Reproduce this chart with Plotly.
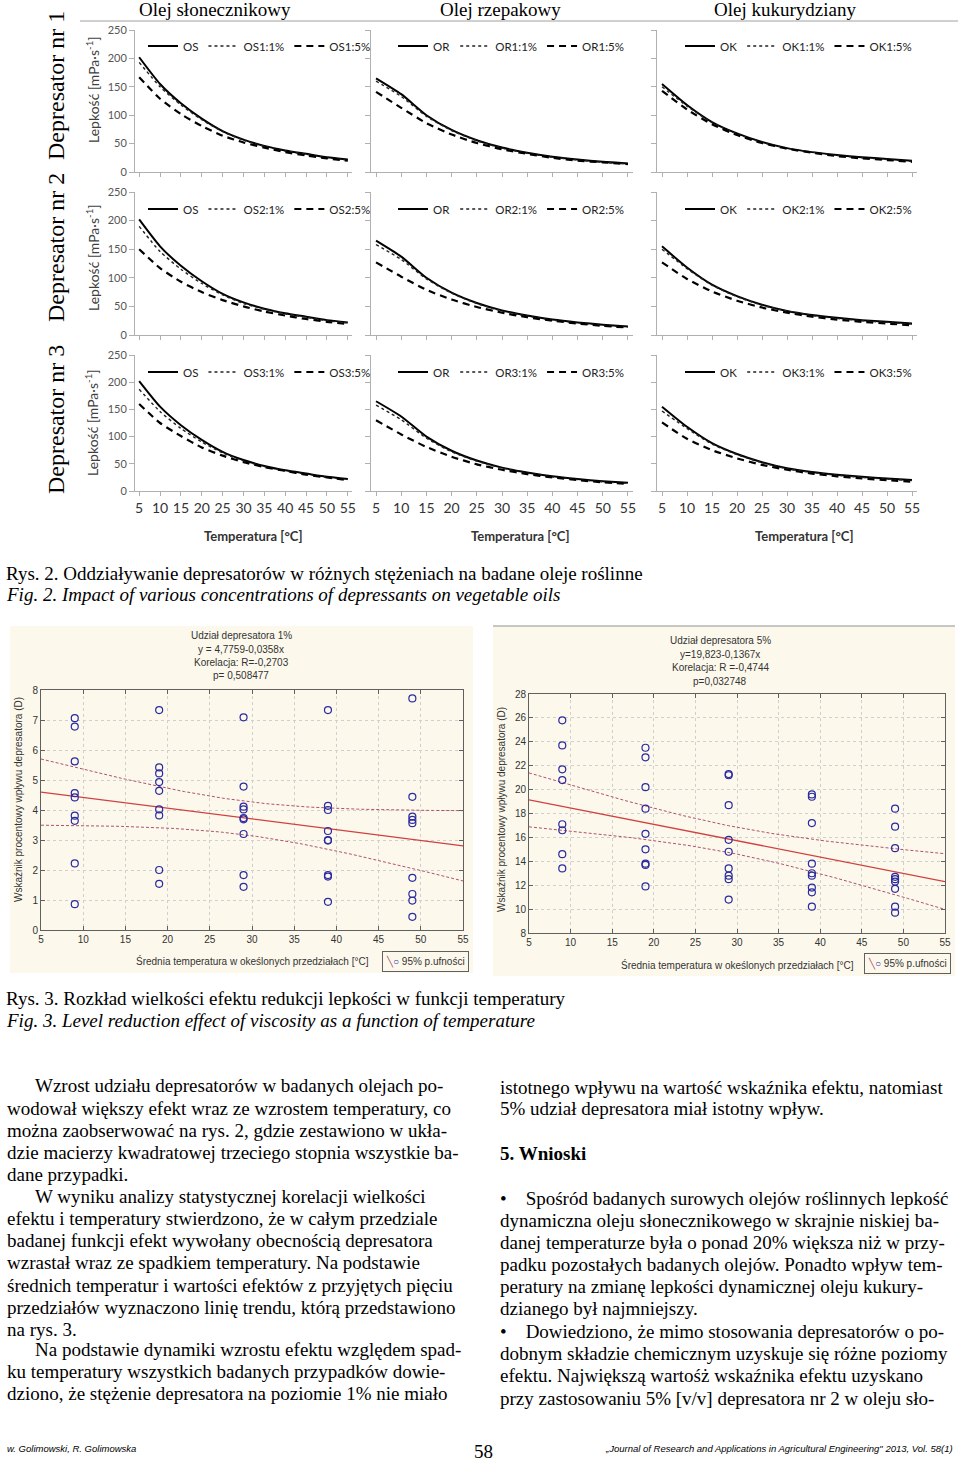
import numpy as np
import plotly.graph_objects as go

# ---------------- DATA ----------------
TEMP = [5, 10, 15, 20, 25, 30, 35, 40, 45, 50, 55]
X_TICKS = [5, 10, 15, 20, 25, 30, 35, 40, 45, 50, 55]
Y_TICKS_VISC = [0, 50, 100, 150, 200, 250]

OIL_TITLES = ["Olej słonecznikowy", "Olej rzepakowy", "Olej kukurydziany"]
ROW_TITLES = ["Depresator nr 1", "Depresator nr 2", "Depresator nr 3"]
OIL_CODES = ["OS", "OR", "OK"]

# sunflower
OS = [202, 155, 121, 94, 72, 57, 46, 38, 32, 26, 22]
OS1_1 = [193, 150, 118, 92, 71, 56, 45, 37, 31, 25, 21]
OS1_5 = [167, 129, 102, 81, 64, 52, 43, 35, 29, 24, 20]
OS2_1 = [190, 146, 115, 90, 70, 55, 45, 37, 31, 25, 21]
OS2_5 = [150, 117, 93, 75, 61, 50, 41, 34, 28, 23, 19]
OS3_1 = [187, 146, 115, 90, 70, 55, 45, 37, 31, 25, 21]
OS3_5 = [160, 125, 101, 80, 65, 53, 44, 37, 30, 25, 20]
# rapeseed
OR = [165, 137, 100, 74, 56, 43, 34, 27, 22, 18, 15]
OR1_1 = [160, 133, 98, 73, 55, 42, 33, 26, 21, 17, 14]
OR1_5 = [141, 113, 86, 66, 51, 40, 32, 25, 20, 17, 14]
OR2_1 = [158, 132, 98, 73, 55, 42, 33, 26, 21, 17, 14]
OR2_5 = [127, 102, 79, 62, 49, 39, 31, 25, 20, 16, 13]
OR3_1 = [158, 131, 97, 72, 55, 42, 33, 26, 21, 17, 14]
OR3_5 = [130, 104, 81, 63, 49, 39, 31, 25, 20, 16, 13]
# corn
OK = [155, 118, 88, 68, 53, 42, 35, 30, 26, 23, 20]
OK1_1 = [150, 116, 87, 67, 52, 42, 35, 29, 25, 22, 19]
OK1_5 = [143, 110, 84, 65, 51, 41, 34, 28, 24, 21, 18]
OK2_1 = [150, 116, 87, 67, 52, 42, 34, 29, 25, 22, 19]
OK2_5 = [127, 98, 76, 60, 48, 39, 32, 27, 23, 20, 17]
OK3_1 = [147, 115, 86, 67, 52, 41, 34, 29, 25, 22, 19]
OK3_5 = [126, 96, 75, 60, 48, 39, 32, 27, 23, 20, 17]

BASE = {"OS": OS, "OR": OR, "OK": OK}
DOSED = {
    ("OS", 1): (OS1_1, OS1_5), ("OS", 2): (OS2_1, OS2_5), ("OS", 3): (OS3_1, OS3_5),
    ("OR", 1): (OR1_1, OR1_5), ("OR", 2): (OR2_1, OR2_5), ("OR", 3): (OR3_1, OR3_5),
    ("OK", 1): (OK1_1, OK1_5), ("OK", 2): (OK2_1, OK2_5), ("OK", 3): (OK3_1, OK3_5),
}

# Fig. 3 scatter data (mean temperature of interval -> effect D)
T_GROUPS = [9, 19, 29, 39, 49]
D1_09 = [7.06, 6.78, 5.62, 4.56, 4.42, 3.81, 3.64, 2.22, 0.86]
D1_19 = [7.33, 5.42, 5.22, 4.93, 4.64, 4.02, 3.82, 2.00, 1.54]
D1_29 = [7.09, 4.78, 4.11, 4.02, 3.73, 3.69, 3.20, 1.83, 1.44]
D1_39 = [7.33, 4.14, 4.00, 3.30, 3.00, 2.98, 1.83, 1.78, 0.94]
D1_49 = [7.72, 4.44, 3.78, 3.67, 3.56, 1.74, 1.20, 0.98, 0.44]
D5_09 = [25.8, 23.7, 21.7, 20.8, 17.1, 16.6, 14.6, 13.4]
D5_19 = [23.5, 22.7, 20.2, 18.4, 16.3, 15.0, 13.8, 13.7, 11.9]
D5_29 = [21.3, 21.2, 18.7, 15.8, 14.8, 13.4, 12.8, 12.5, 10.8]
D5_39 = [19.6, 19.4, 17.2, 13.8, 13.0, 12.8, 11.8, 11.4, 10.2]
D5_49 = [18.4, 16.9, 15.1, 12.7, 12.5, 12.3, 11.7, 10.2, 9.7]
REG1 = (4.7759, -0.0358)
REG5 = (19.823, -0.1367)
T_975 = 2.02
S1_TICKS_Y = [0, 1, 2, 3, 4, 5, 6, 7, 8]
S5_TICKS_Y = [8, 10, 12, 14, 16, 18, 20, 22, 24, 26, 28]
S_TICKS_X = [5, 10, 15, 20, 25, 30, 35, 40, 45, 50, 55]

# ---------------- helpers ----------------
W, H = 960, 1464
def fx(p): return p / W
def fy(p): return 1 - p / H

SERIF = "Liberation Serif"
SANS = "Liberation Sans"
CAL = "Lato"

fig = go.Figure()
layout = dict(width=W, height=H, margin=dict(l=0, r=0, t=0, b=0, autoexpand=False),
              paper_bgcolor="white", plot_bgcolor="white", showlegend=True)
annotations = []
shapes = []

def ann(text, xp, yp, family, size, color="black", xanchor="center", yanchor="middle", **kw):
    annotations.append(dict(text=text, x=fx(xp), y=fy(yp), xref="paper", yref="paper",
                            xanchor=xanchor, yanchor=yanchor, showarrow=False,
                            font=dict(family=family, size=size, color=color), **kw))

COL_X = [(135, 352), (371, 633), (657, 917)]
ROW_Y = [(30, 172), (192, 335), (355, 491)]
LEG_X = [143, 393, 680]
LEG_Y = [46, 209, 372]

for r in range(3):
    for c in range(3):
        k = r * 3 + c + 1
        sx = "" if k == 1 else str(k)
        code = OIL_CODES[c]
        d1, d5 = DOSED[(code, r + 1)]
        leg = "legend" if k == 1 else f"legend{k}"
        styles = [
            (BASE[code], code, dict(color="black", width=2)),
            (d1, f"{code}{r+1}:1%", dict(color="#222", width=1.4, dash="dot")),
            (d5, f"{code}{r+1}:5%", dict(color="black", width=2.2, dash="7px,5px")),
        ]
        for ys, nm, ln in styles:
            fig.add_trace(go.Scatter(x=TEMP, y=ys, name=nm, mode="lines",
                                     line=dict(shape="spline", smoothing=0.6, **ln),
                                     xaxis="x" + sx, yaxis="y" + sx, legend=leg,
                                     hoverinfo="skip"))
        x0, x1 = COL_X[c]
        y0, y1 = ROW_Y[r]
        layout["xaxis" + sx] = dict(domain=[fx(x0), fx(x1)], range=[4, 56], anchor="y" + sx,
                                    tickvals=X_TICKS, showticklabels=(r == 2),
                                    ticks="outside", ticklen=4, tickcolor="#b0b0b0",
                                    showline=True, linecolor="#b0b0b0", linewidth=1,
                                    showgrid=False, zeroline=False,
                                    tickfont=dict(family=CAL, size=14, color="#333"))
        layout["yaxis" + sx] = dict(domain=[fy(y1), fy(y0)], range=[0, 250], anchor="x" + sx,
                                    tickvals=Y_TICKS_VISC, showticklabels=(c == 0),
                                    ticks="outside", ticklen=5, tickcolor="#b0b0b0",
                                    showline=True, linecolor="#b0b0b0", linewidth=1,
                                    showgrid=False, zeroline=False,
                                    tickfont=dict(family=CAL, size=11, color="#555"))
        layout[leg] = dict(orientation="h", x=fx(LEG_X[c]), y=fy(LEG_Y[r]),
                           xanchor="left", yanchor="middle", bgcolor="rgba(0,0,0,0)",
                           font=dict(family=CAL, size=11.5, color="#222"),
                           itemwidth=30, tracegroupgap=0, itemclick=False)

# column / row titles
for c, t in enumerate(OIL_TITLES):
    ann(t, [215, 500, 785][c], 9, SERIF, 19)
for r, t in enumerate(ROW_TITLES):
    ann(t, 56, [86, 248, 420][r], SERIF, 24, textangle=-90)
    ann("Lepkość [mPa·s<sup>-1</sup>]", 92, [90, 258, 423][r], CAL, 14, "#404040", textangle=-90)
for c in range(3):
    ann("<b>Temperatura [°C]</b>", [253, 520, 804][c], 536, CAL, 13, "#333")
shapes.append(dict(type="line", xref="paper", yref="paper", x0=fx(80), x1=fx(958),
                   y0=fy(21), y1=fy(21), line=dict(color="#a0a0a0", width=1)))

# captions fig 2
ann("Rys. 2. Oddziaływanie depresatorów w różnych stężeniach na badane oleje roślinne", 4, 573,
    SERIF, 19, xanchor="left")
ann("<i>Fig. 2. Impact of various concentrations of depressants on vegetable oils</i>", 4, 594,
    SERIF, 19, xanchor="left")

# ---------------- Fig. 3 scatter panels ----------------
shapes.append(dict(type="rect", xref="paper", yref="paper", x0=fx(10), x1=fx(473), y0=fy(973), y1=fy(626),
                   fillcolor="#fcf9ec", line=dict(width=0), layer="below"))
shapes.append(dict(type="rect", xref="paper", yref="paper", x0=fx(493), x1=fx(955), y0=fy(976), y1=fy(626),
                   fillcolor="#fcf9ec", line=dict(width=0), layer="below"))
shapes.append(dict(type="line", xref="paper", yref="paper", x0=fx(493), x1=fx(955), y0=fy(626), y1=fy(626),
                   line=dict(color="#909090", width=1)))

LEG_TXT = ("<span style='color:#b05070'>╲</span><span style='color:#2a2aa0'>○</span>"
           " 95% p.ufności")

def scatter_panel(k, groups, reg, dom_x, dom_y, yrange, yticks, title_lines, title_y, title_cx, leg_xy):
    sx = str(k)
    xs, ys = [], []
    for t, g in zip(T_GROUPS, groups):
        xs += [t] * len(g)
        ys += g
    xs = np.array(xs, float); ys = np.array(ys, float)
    a, b = reg
    n = len(xs)
    s = np.sqrt(np.sum((ys - (a + b * xs)) ** 2) / (n - 2))
    xm = xs.mean(); sxx = np.sum((xs - xm) ** 2)
    xg = np.linspace(5, 55, 101)
    yfit = a + b * xg
    hw = T_975 * s * np.sqrt(1 / n + (xg - xm) ** 2 / sxx)
    for yy in (yfit + hw, yfit - hw):
        fig.add_trace(go.Scatter(x=xg, y=yy, mode="lines", line=dict(color="#b05070", width=1, dash="3px,2px"),
                                 xaxis="x" + sx, yaxis="y" + sx, showlegend=False, hoverinfo="skip"))
    fig.add_trace(go.Scatter(x=xg, y=yfit, mode="lines", line=dict(color="#d04040", width=1.3),
                             xaxis="x" + sx, yaxis="y" + sx, showlegend=False, hoverinfo="skip"))
    fig.add_trace(go.Scatter(x=xs, y=ys, mode="markers",
                             marker=dict(symbol="circle-open", size=7, color="#2a2aa0", line=dict(width=1.2)),
                             xaxis="x" + sx, yaxis="y" + sx, showlegend=False))
    axis_common = dict(showline=True, linecolor="#606060", linewidth=1, mirror="allticks",
                       ticks="inside", ticklen=4, tickcolor="#606060",
                       showgrid=True, gridcolor="#cfcfcf", griddash="dot", zeroline=False,
                       tickfont=dict(family=SANS, size=10, color="#333"))
    layout["xaxis" + sx] = dict(domain=[fx(dom_x[0]), fx(dom_x[1])], range=[5, 55], anchor="y" + sx,
                                tickvals=S_TICKS_X, **axis_common)
    layout["yaxis" + sx] = dict(domain=[fy(dom_y[1]), fy(dom_y[0])], range=yrange, anchor="x" + sx,
                                tickvals=yticks, **axis_common)
    for i, t in enumerate(title_lines):
        ann(t, title_cx, title_y[i], SANS, 10, "#333")
    ann(LEG_TXT, leg_xy[0], leg_xy[1], SANS, 10, "#333", xanchor="right",
        bordercolor="#606060", borderwidth=1, borderpad=3, bgcolor="#fcf9ec")

scatter_panel(10, [D1_09, D1_19, D1_29, D1_39, D1_49], REG1, (41, 463), (690, 930), [0, 8], S1_TICKS_Y,
              ["Udział depresatora 1%", "y = 4,7759-0,0358x", "Korelacja: R=-0,2703", "p= 0,508477"],
              [635, 649, 663, 676], 241, (469, 961))
scatter_panel(11, [D5_09, D5_19, D5_29, D5_39, D5_49], REG5, (529, 945), (694, 933), [8, 28], S5_TICKS_Y,
              ["Udział depresatora 5%", "y=19,823-0,1367x", "Korelacja: R =-0,4744", "p=0,032748"],
              [640, 654, 668, 681], 720, (951, 964))

ann("Wskaźnik procentowy wpływu depresatora (D)", 18, 800, SANS, 10, "#333", textangle=-90)
ann("Wskaźnik procentowy wpływu depresatora (D)", 501, 810, SANS, 10, "#333", textangle=-90)
ann("Średnia temperatura w okeślonych przedziałach [°C]", 252, 961, SANS, 10, "#333")
ann("Średnia temperatura w okeślonych przedziałach [°C]", 737, 965, SANS, 10, "#333")

ann("Rys. 3. Rozkład wielkości efektu redukcji lepkości w funkcji temperatury", 4, 998,
    SERIF, 19, xanchor="left")
ann("<i>Fig. 3. Level reduction effect of viscosity as a function of temperature</i>", 4, 1020,
    SERIF, 19, xanchor="left")

# ---------------- body text ----------------
LEFT_LINES = [
    (33, 1085, "Wzrost udziału depresatorów w badanych olejach po-"),
    (5, 1108, "wodował większy efekt wraz ze wzrostem temperatury, co"),
    (5, 1130, "można zaobserwować na rys. 2, gdzie zestawiono w ukła-"),
    (5, 1152, "dzie macierzy kwadratowej trzeciego stopnia wszystkie ba-"),
    (5, 1174, "dane przypadki."),
    (33, 1196, "W wyniku analizy statystycznej korelacji wielkości"),
    (5, 1218, "efektu i temperatury stwierdzono, że w całym przedziale"),
    (5, 1240, "badanej funkcji efekt wywołany obecnością depresatora"),
    (5, 1262, "wzrastał wraz ze spadkiem temperatury. Na podstawie"),
    (5, 1285, "średnich temperatur i wartości efektów z przyjętych pięciu"),
    (5, 1307, "przedziałów wyznaczono linię trendu, którą przedstawiono"),
    (5, 1329, "na rys. 3."),
    (33, 1349, "Na podstawie dynamiki wzrostu efektu względem spad-"),
    (5, 1371, "ku temperatury wszystkich badanych przypadków dowie-"),
    (5, 1393, "dziono, że stężenie depresatora na poziomie 1% nie miało"),
]
RIGHT_LINES = [
    (498, 1087, "istotnego wpływu na wartość wskaźnika efektu, natomiast"),
    (498, 1108, "5% udział depresatora miał istotny wpływ."),
    (498, 1153, "<b>5. Wnioski</b>"),
    (498, 1198, "•    Spośród badanych surowych olejów roślinnych lepkość"),
    (498, 1220, "dynamiczna oleju słonecznikowego w skrajnie niskiej ba-"),
    (498, 1242, "danej temperaturze była o ponad 20% większa niż w przy-"),
    (498, 1264, "padku pozostałych badanych olejów. Ponadto wpływ tem-"),
    (498, 1286, "peratury na zmianę lepkości dynamicznej oleju kukury-"),
    (498, 1308, "dzianego był najmniejszy."),
    (498, 1331, "•    Dowiedziono, że mimo stosowania depresatorów o po-"),
    (498, 1353, "dobnym składzie chemicznym uzyskuje się różne poziomy"),
    (498, 1375, "efektu. Największą wartośż wskaźnika efektu uzyskano"),
    (498, 1398, "przy zastosowaniu 5% [v/v] depresatora nr 2 w oleju sło-"),
]
for xp, yp, t in LEFT_LINES + RIGHT_LINES:
    ann(t, xp, yp, SERIF, 19, xanchor="left")

ann("<i>w. Golimowski, R. Golimowska</i>", 5, 1448, SANS, 9.5, xanchor="left")
ann("58", 483, 1451, SERIF, 19)
ann("<i>„Journal of Research and Applications in Agricultural Engineering\" 2013, Vol. 58(1)</i>",
    955, 1448, SANS, 9.5, xanchor="right")

layout["annotations"] = annotations
layout["shapes"] = shapes
fig.update_layout(**layout)
fig.write_html("out.html", config={"displayModeBar": False},
               post_script="document.body.style.margin='0px';")
